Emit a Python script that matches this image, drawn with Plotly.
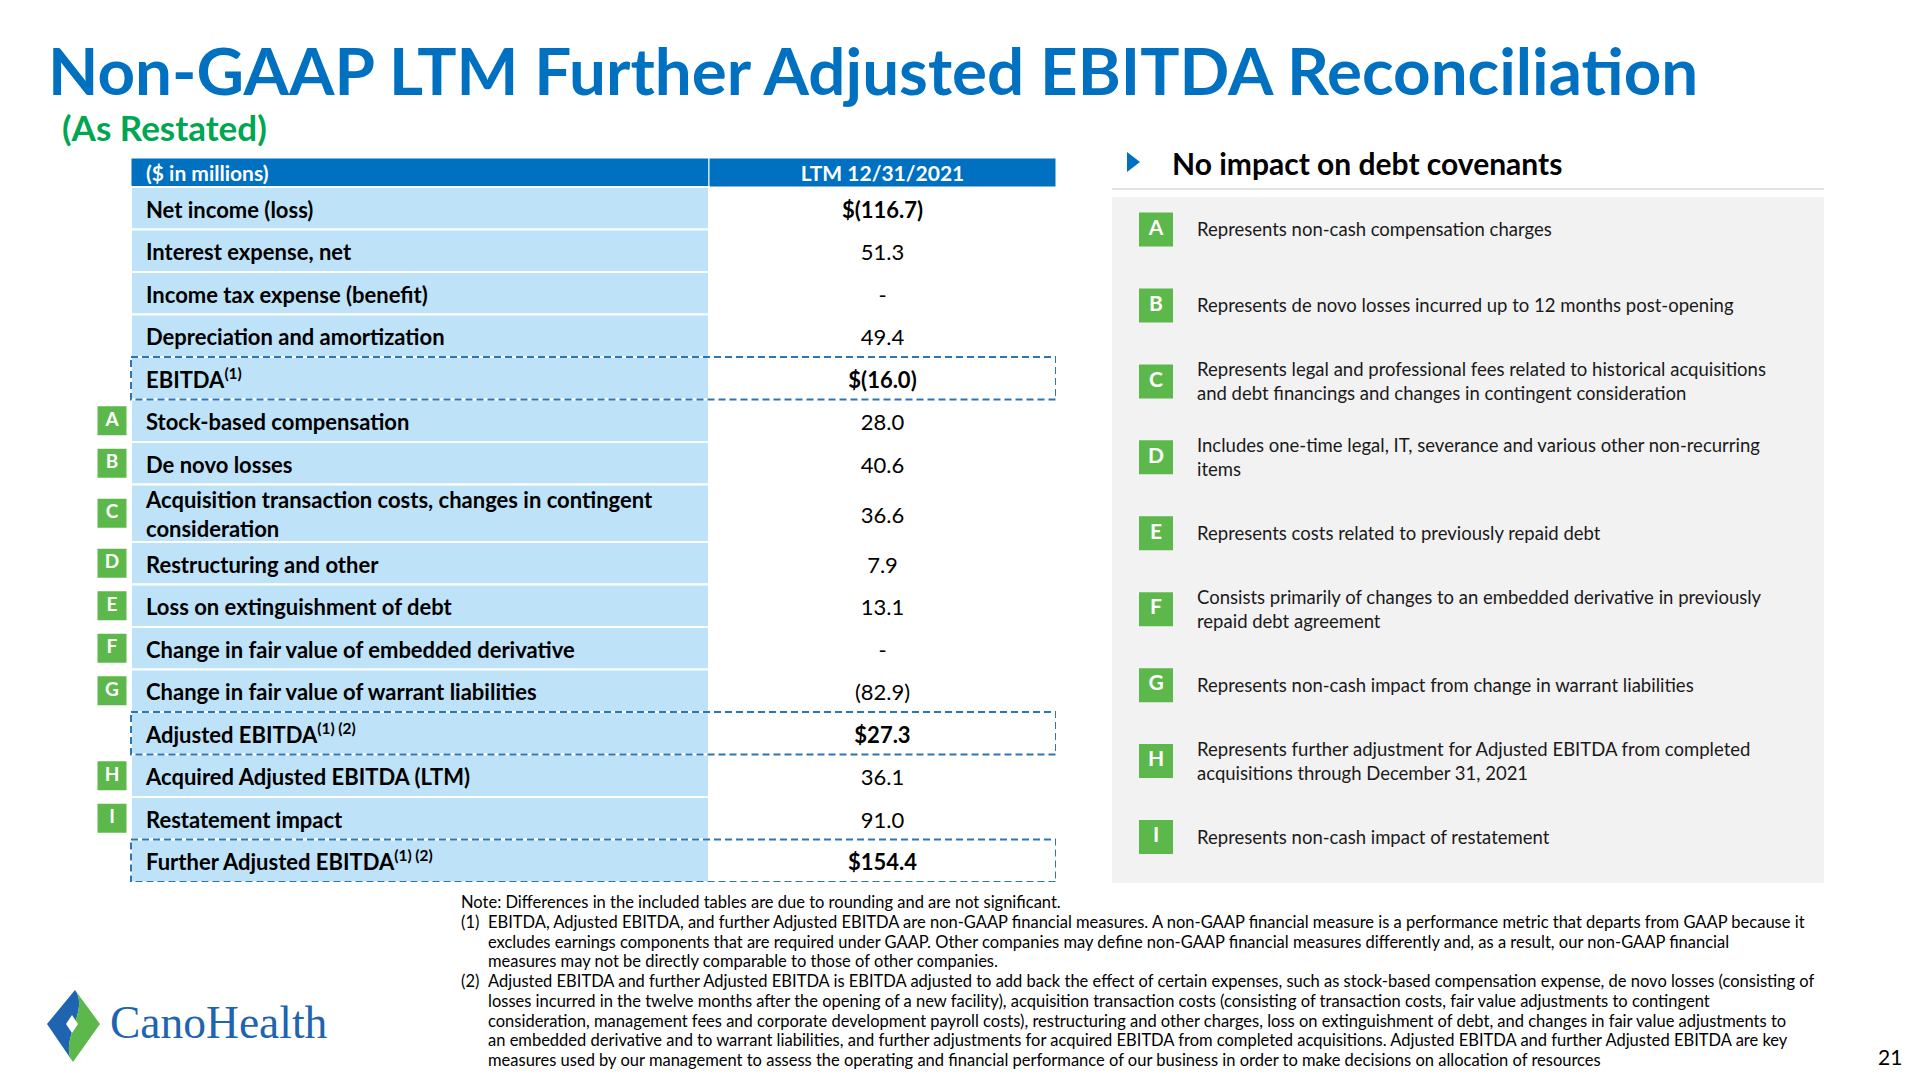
import plotly.graph_objects as go

# ---------------- data ----------------
header_labels = ["($ in millions)", "LTM 12/31/2021"]
row_labels = [
    "Net income (loss)",
    "Interest expense, net",
    "Income tax expense (benefit)",
    "Depreciation and amortization",
    "EBITDA<sup>(1)</sup>",
    "Stock-based compensation",
    "De novo losses",
    "Acquisition transaction costs, changes in contingent<br>consideration",
    "Restructuring and other",
    "Loss on extinguishment of debt",
    "Change in fair value of embedded derivative",
    "Change in fair value of warrant liabilities",
    "Adjusted EBITDA<sup>(1) (2)</sup>",
    "Acquired Adjusted EBITDA (LTM)",
    "Restatement impact",
    "Further Adjusted EBITDA<sup>(1) (2)</sup>",
]
row_values = [-116.7, 51.3, None, 49.4, -16.0, 28.0, 40.6, 36.6, 7.9, 13.1,
              None, -82.9, 27.3, 36.1, 91.0, 154.4]
row_badges = ["", "", "", "", "", "A", "B", "C", "D", "E", "F", "G", "", "H", "I", ""]
dollar_rows = [True, False, False, False, True, False, False, False, False, False,
               False, False, True, False, False, True]
total_rows = [False, False, False, False, True, False, False, False, False, False,
              False, False, True, False, False, True]

note_letters = ["A", "B", "C", "D", "E", "F", "G", "H", "I"]
note_texts = [
    "Represents non-cash compensation charges",
    "Represents de novo losses incurred up to 12 months post-opening",
    "Represents legal and professional fees related to historical acquisitions<br>and debt financings and changes in contingent consideration",
    "Includes one-time legal, IT, severance and various other non-recurring<br>items",
    "Represents costs related to previously repaid debt",
    "Consists primarily of changes to an embedded derivative in previously<br>repaid debt agreement",
    "Represents non-cash impact from change in warrant liabilities",
    "Represents further adjustment for Adjusted EBITDA from completed<br>acquisitions through December 31, 2021",
    "Represents non-cash impact of restatement",
]

title_text = "Non-GAAP LTM Further Adjusted EBITDA Reconciliation"
subtitle_text = "(As Restated)"
side_heading = "No impact on debt covenants"
footnote_lines = [
    ("", "Note: Differences in the included tables are due to rounding and are not significant."),
    ("(1)", "EBITDA, Adjusted EBITDA, and further Adjusted EBITDA are non-GAAP financial measures. A non-GAAP financial measure is a performance metric that departs from GAAP because it"),
    ("", "excludes earnings components that are required under GAAP. Other companies may define non-GAAP financial measures differently and, as a result, our non-GAAP financial"),
    ("", "measures may not be directly comparable to those of other companies."),
    ("(2)", "Adjusted EBITDA and further Adjusted EBITDA is EBITDA adjusted to add back the effect of certain expenses, such as stock-based compensation expense, de novo losses (consisting of"),
    ("", "losses incurred in the twelve months after the opening of a new facility), acquisition transaction costs (consisting of transaction costs, fair value adjustments to contingent"),
    ("", "consideration, management fees and corporate development payroll costs), restructuring and other charges, loss on extinguishment of debt, and changes in fair value adjustments to"),
    ("", "an embedded derivative and to warrant liabilities, and further adjustments for acquired EBITDA from completed acquisitions. Adjusted EBITDA and further Adjusted EBITDA are key"),
    ("", "measures used by our management to assess the operating and financial performance of our business in order to make decisions on allocation of resources"),
]
page_number = "21"

# ---------------- styles / layout constants ----------------
W, H = 1920, 1080
BLUE = "#0070C0"
LIGHT = "#BEE2F8"
GREEN = "#5DB84B"
DASH = "#2E75B6"
FONT = "Lato"

LABEL_W, VALUE_W = 578, 347
BADGE_COL = 41
HEADER_H, ROW_H, EXTRA_LINE_H = 29, 42.5, 15
TABLE_TOP, TABLE_LEFT = 158, 131
TEXT_DY = 4  # visual centring of text within rows (px)


def px_x(x):
    return x / W


def px_y(y):
    return 1 - y / H


# row geometry derived from the labels (number of lines)
heights = [ROW_H + EXTRA_LINE_H * lbl.count("<br>") for lbl in row_labels]
tops, centers = [], []
cur = HEADER_H
for h in heights:
    tops.append(cur)
    centers.append(cur + h / 2)
    cur += h
table_total = cur
text_y = [c + TEXT_DY for c in centers]


def fmt(v, dollar):
    if v is None:
        return "-"
    s = f"{abs(v):.1f}"
    if v < 0:
        s = f"({s})"
    if dollar:
        s = "$" + s
        return f"<b>{s}</b>"
    return s


fig = go.Figure()

# header cells
fig.add_trace(go.Bar(
    orientation="h", y=[HEADER_H / 2, HEADER_H / 2], x=[LABEL_W, VALUE_W], base=[0, LABEL_W],
    width=[HEADER_H, HEADER_H], marker=dict(color=BLUE, line=dict(color="white", width=1)),
    xaxis="x", yaxis="y", hoverinfo="skip", showlegend=False))
# label column cells
fig.add_trace(go.Bar(
    orientation="h", y=centers, x=[LABEL_W] * len(centers), base=0, width=heights,
    marker=dict(color=LIGHT, line=dict(color="white", width=2)),
    xaxis="x", yaxis="y", hoverinfo="skip", showlegend=False))

# header text
fig.add_trace(go.Scatter(
    x=[15, LABEL_W + VALUE_W / 2], y=[HEADER_H / 2 + 3, HEADER_H / 2 + 3], mode="text",
    text=[f"<b>{t}</b>" for t in header_labels], textposition=["middle right", "middle center"],
    textfont=dict(family=FONT, size=21, color="white"), xaxis="x", yaxis="y",
    hoverinfo="skip", showlegend=False, cliponaxis=False))
# labels
fig.add_trace(go.Scatter(
    x=[15] * len(centers), y=text_y, mode="text", text=[f"<b>{t}</b>" for t in row_labels],
    textposition="middle right", textfont=dict(family=FONT, size=22, color="#000000"),
    xaxis="x", yaxis="y", hoverinfo="skip", showlegend=False, cliponaxis=False))
# values
fig.add_trace(go.Scatter(
    x=[LABEL_W + VALUE_W / 2] * len(centers), y=text_y, mode="text",
    text=[fmt(v, d) for v, d in zip(row_values, dollar_rows)],
    textposition="middle center", textfont=dict(family=FONT, size=22, color="#000000"),
    xaxis="x", yaxis="y", hoverinfo="skip", showlegend=False, cliponaxis=False))
# badges
bidx = [i for i, b in enumerate(row_badges) if b]
fig.add_trace(go.Scatter(
    x=[-BADGE_COL / 2 + 1.5] * len(bidx), y=[centers[i] for i in bidx], mode="markers+text",
    marker=dict(symbol="square", size=29, color=GREEN, line=dict(width=0)),
    text=[f"<b>{row_badges[i]}</b>" for i in bidx], textposition="middle center",
    textfont=dict(family=FONT, size=19, color="white"),
    xaxis="x", yaxis="y", hoverinfo="skip", showlegend=False, cliponaxis=False))

shapes = []
# dashed boxes around totals
for i, t in enumerate(total_rows):
    if t:
        shapes.append(dict(type="rect", xref="x", yref="y", x0=0, x1=LABEL_W + VALUE_W,
                           y0=tops[i], y1=tops[i] + heights[i],
                           line=dict(color=DASH, width=2, dash="7px,4px"), layer="above"))

# right-hand notes list
n = len(note_letters)
fig.add_trace(go.Scatter(
    x=[44] * n, y=list(range(n)), mode="markers+text",
    marker=dict(symbol="square", size=34, color=GREEN, line=dict(width=0)),
    text=[f"<b>{l}</b>" for l in note_letters], textposition="middle center",
    textfont=dict(family=FONT, size=21, color="white"),
    xaxis="x2", yaxis="y2", hoverinfo="skip", showlegend=False, cliponaxis=False))
fig.add_trace(go.Scatter(
    x=[85] * n, y=[i + 0.03 for i in range(n)], mode="text", text=note_texts,
    textposition="middle right",
    textfont=dict(family=FONT, size=18.5, color="#1A1A1A"),
    xaxis="x2", yaxis="y2", hoverinfo="skip", showlegend=False, cliponaxis=False))

# panel background and heading rule
PANEL = (1112, 197, 1824, 883)
shapes.append(dict(type="rect", xref="paper", yref="paper", x0=px_x(PANEL[0]), x1=px_x(PANEL[2]),
                   y0=px_y(PANEL[3]), y1=px_y(PANEL[1]), fillcolor="#F2F2F2", line=dict(width=0),
                   layer="below"))
shapes.append(dict(type="line", xref="paper", yref="paper", x0=px_x(1112), x1=px_x(1824),
                   y0=px_y(189), y1=px_y(189), line=dict(color="#E3E3E3", width=2)))


def P(x, y):
    return f"{px_x(x):.5f},{px_y(y):.5f}"


# heading triangle
shapes.append(dict(type="path", xref="paper", yref="paper",
                   path=f"M{P(1127,152)} L{P(1140,162)} L{P(1127,172)} Z",
                   fillcolor=BLUE, line=dict(width=0)))

# logo
LOGO_BLUE = "#1E64B0"
shapes.append(dict(type="path", xref="paper", yref="paper",
                   path=f"M{P(75,990)} L{P(47,1024)} L{P(73,1062)} C{P(58,1042)} {P(90,1010)} {P(75,990)} Z",
                   fillcolor=LOGO_BLUE, line=dict(width=0)))
shapes.append(dict(type="path", xref="paper", yref="paper",
                   path=f"M{P(75,990)} L{P(100,1024)} L{P(73,1062)} C{P(58,1042)} {P(90,1010)} {P(75,990)} Z",
                   fillcolor=GREEN, line=dict(width=0)))
shapes.append(dict(type="path", xref="paper", yref="paper",
                   path=f"M{P(72,1015)} L{P(78,1024)} L{P(72,1033)} L{P(66,1024)} Z",
                   fillcolor="white", line=dict(width=0)))

annotations = []
annotations.append(dict(x=px_x(46), y=px_y(70), xref="paper", yref="paper", xanchor="left",
                        yanchor="middle", showarrow=False, text=f"<b>{title_text}</b>",
                        font=dict(family=FONT, size=65.5, color=BLUE)))
annotations.append(dict(x=px_x(60), y=px_y(127), xref="paper", yref="paper", xanchor="left",
                        yanchor="middle", showarrow=False, text=f"<b>{subtitle_text}</b>",
                        font=dict(family=FONT, size=35, color="#00A651")))
annotations.append(dict(x=px_x(1170), y=px_y(163), xref="paper", yref="paper", xanchor="left",
                        yanchor="middle", showarrow=False, text=f"<b>{side_heading}</b>",
                        font=dict(family=FONT, size=30, color="#000000")))
for k, (num, line) in enumerate(footnote_lines):
    y = 902 + k * 19.75
    if num:
        annotations.append(dict(x=px_x(459), y=px_y(y), xref="paper", yref="paper", xanchor="left",
                                yanchor="middle", showarrow=False, text=num,
                                font=dict(family=FONT, size=16.5, color="#000000")))
    annotations.append(dict(x=px_x(459 if (k == 0) else 486), y=px_y(y), xref="paper", yref="paper",
                            xanchor="left", yanchor="middle", showarrow=False, text=line,
                            font=dict(family=FONT, size=16.5, color="#000000")))
annotations.append(dict(x=px_x(1904), y=px_y(1056), xref="paper", yref="paper", xanchor="right",
                        yanchor="middle", showarrow=False, text=page_number,
                        font=dict(family=FONT, size=21, color="#000000")))
annotations.append(dict(x=px_x(108), y=px_y(1022), xref="paper", yref="paper", xanchor="left",
                        yanchor="middle", showarrow=False, text="CanoHealth",
                        font=dict(family="Liberation Serif", size=45.5, color=LOGO_BLUE)))

axis_off = dict(visible=False, showgrid=False, zeroline=False, fixedrange=True)
notes_top, notes_bottom = 229.5, 837
unit = (notes_bottom - notes_top) / (n - 1)
fig.update_layout(
    width=W, height=H, margin=dict(l=0, r=0, t=0, b=0), paper_bgcolor="white",
    plot_bgcolor="rgba(0,0,0,0)", barmode="overlay", showlegend=False,
    xaxis=dict(domain=[px_x(TABLE_LEFT - BADGE_COL), px_x(TABLE_LEFT + LABEL_W + VALUE_W)],
               range=[-BADGE_COL, LABEL_W + VALUE_W], anchor="y", **axis_off),
    yaxis=dict(domain=[px_y(TABLE_TOP + table_total), px_y(TABLE_TOP)],
               range=[table_total, 0], anchor="x", **axis_off),
    xaxis2=dict(domain=[px_x(PANEL[0]), px_x(PANEL[2])], range=[0, PANEL[2] - PANEL[0]],
                anchor="y2", **axis_off),
    yaxis2=dict(domain=[px_y(PANEL[3]), px_y(PANEL[1])],
                range=[(n - 1) + (PANEL[3] - notes_bottom) / unit, -(notes_top - PANEL[1]) / unit],
                anchor="x2", **axis_off),
    shapes=shapes, annotations=annotations,
)

fig.write_html("out.html", config={"displayModeBar": False},
               post_script="document.body.style.margin='0';document.body.style.overflow='hidden';")
